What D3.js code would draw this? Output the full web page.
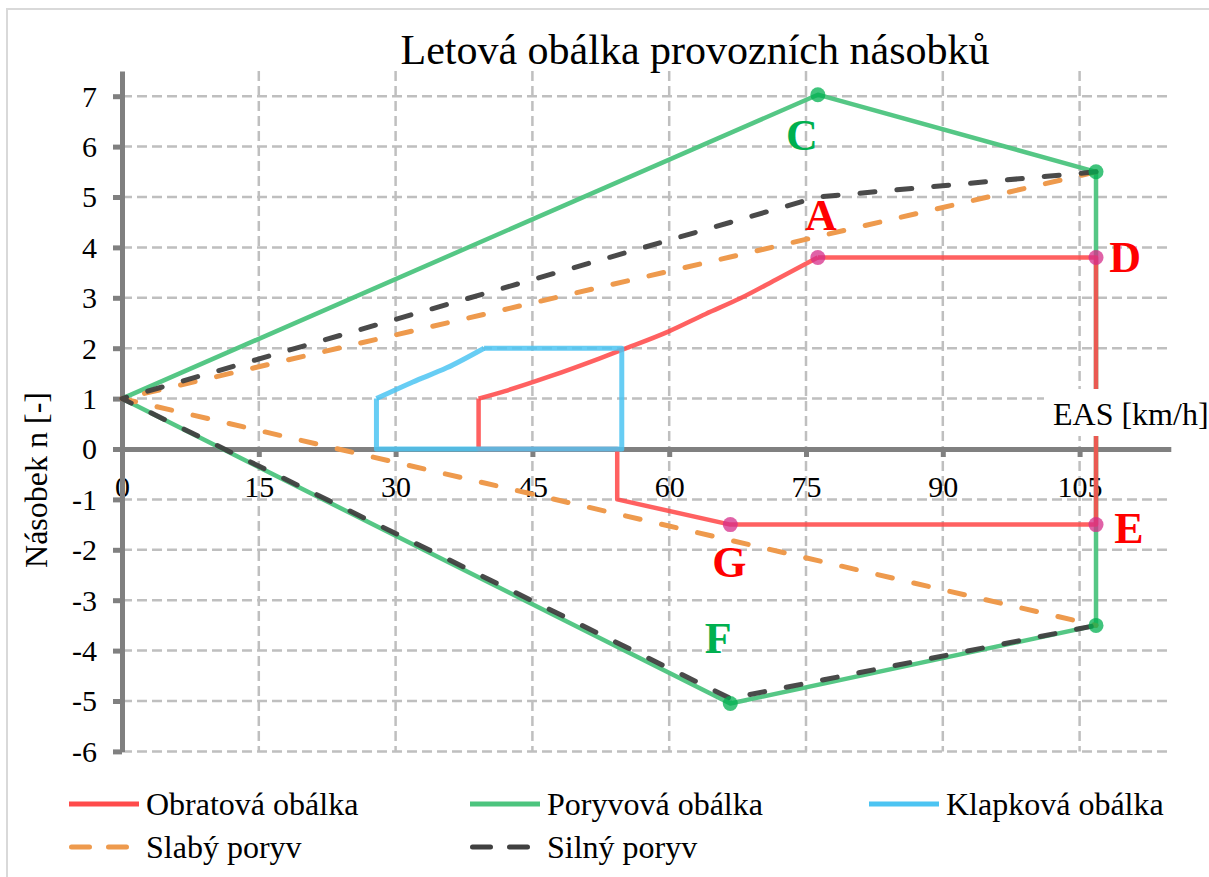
<!DOCTYPE html>
<html>
<head>
<meta charset="utf-8">
<script src="https://cdn.jsdelivr.net/npm/d3@7"></script>
<style>
  html, body { margin: 0; padding: 0; background: #fff; }
  svg { display: block; font-family: "Liberation Serif", "Times New Roman", serif; }
</style>
</head>
<body>
<svg id="chart" width="1209" height="877"></svg>
<script>
// Obratová obálka – the stall parabola from (Vs, 1) up to A
const obratovaKrivkaV = [39.1, 42, 46.9, 52.4, 55, 59.9, 64, 67.8, 72, 76.3];
const obratovaKrivkaN = [1, 1.15, 1.44, 1.80, 1.98, 2.33, 2.68, 2.99, 3.39, 3.8];
// Obratová obálka – straight parts: A, D, E, G, negative stall corner, back to the start
const obratovaV = [76.3, 106.8, 106.8, 66.7, 54.3, 54.3, 39.1, 39.1];
const obratovaN = [3.8, 3.8, -1.5, -1.5, -1, 0, 0, 1];

// Poryvová obálka: (0,1) – C – top right – bottom right – F – (0,1)
const poryvovaV = [0, 76.3, 106.8, 106.8, 66.7, 0];
const poryvovaN = [1, 7.03, 5.5, -3.5, -5.05, 1];

// Klapková obálka – curved part and straight part
const klapkovaKrivkaV = [27.9, 31.9, 35.6, 39.7];
const klapkovaKrivkaN = [1, 1.33, 1.61, 2];
const klapkovaV = [39.7, 54.8, 54.8, 27.9, 27.9];
const klapkovaN = [2, 2, 0, 0, 1];

// Slabý poryv
const slabyV = [106.8, 0, 106.8];
const slabyN = [5.5, 1, -3.5];

// Silný poryv
const silnyV = [106.8, 76.3, 0, 66.7, 106.8];
const silnyN = [5.5, 5.0, 1, -4.95, -3.5];

// Named points of the envelope
const bodyName = ["C", "A", "D", "E", "G", "F"];
const bodyV = [76.3, 76.3, 106.8, 106.8, 66.7, 66.7];
const bodyN = [7.03, 3.8, 3.8, -1.5, -1.5, -5.05];
const bodyGroup = ["poryv", "obrat", "obrat", "obrat", "obrat", "poryv"];
// extra green corner markers
const rohyV = [106.8, 106.8];
const rohyN = [5.5, -3.5];

const xTicks = [0, 15, 30, 45, 60, 75, 90, 105];
const yTicks = [-6, -5, -4, -3, -2, -1, 0, 1, 2, 3, 4, 5, 6, 7];

const titleText = "Letová obálka provozních násobků";
const xTitle = "EAS [km/h]";
const yTitle = "Násobek n [-]";
const legendNames = ["Obratová obálka", "Poryvová obálka", "Klapková obálka", "Slabý poryv", "Silný poryv"];

// ---------- drawing ----------
const svg = d3.select("#chart");
const C = {
  red: "#ff4b4b", green: "#4cc47e", blue: "#4cc4f2", orange: "#ee9a4d", dark: "#404040",
  redMark: "#d62e8a", greenMark: "#00b050", grid: "#bfbfbf", axis: "#808080",
  labRed: "#ff0000", labGreen: "#00b050"
};

svg.append("rect").attr("x", 0).attr("y", 0).attr("width", 1209).attr("height", 877).attr("fill", "#fff");
svg.append("rect").attr("x", 7).attr("y", 9).attr("width", 1215).attr("height", 885)
  .attr("fill", "none").attr("stroke", "#d9d9d9").attr("stroke-width", 2);

const x = d3.scaleLinear().domain([0, 115]).range([122, 122 + 115 * 9.12]);
const y = d3.scaleLinear().domain([-6, 7.5]).range([449 + 6 * 50.4, 449 - 7.5 * 50.4]);

// gridlines
const grid = svg.append("g");
grid.selectAll("line.h").data(yTicks.filter(d => d !== 0)).join("line")
  .attr("x1", x(0)).attr("x2", x(115)).attr("y1", d => y(d)).attr("y2", d => y(d))
  .attr("stroke", C.grid).attr("stroke-width", 2.5).attr("stroke-dasharray", "10,5");
grid.selectAll("line.v").data(xTicks.filter(d => d !== 0)).join("line")
  .attr("x1", d => x(d)).attr("x2", d => x(d)).attr("y1", y(7.5)).attr("y2", y(-6))
  .attr("stroke", C.grid).attr("stroke-width", 2.5).attr("stroke-dasharray", "10,5");

// axes
const fmt = d => String(d);
const gx = svg.append("g").attr("transform", `translate(0,${y(0)})`)
  .call(d3.axisBottom(x).tickValues(xTicks).tickFormat(fmt).tickSize(8).tickSizeOuter(0).tickPadding(19));
const gy = svg.append("g").attr("transform", `translate(${x(0)},0)`)
  .call(d3.axisLeft(y).tickValues(yTicks).tickFormat(fmt).tickSize(9).tickSizeOuter(0).tickPadding(16));
[gx, gy].forEach(g => {
  g.select(".domain").attr("stroke", C.axis).attr("stroke-width", 5);
  g.selectAll(".tick line").attr("stroke", C.axis).attr("stroke-width", 5);
  g.selectAll(".tick text").attr("fill", "#000").style("font-size", "30px")
    .style("font-family", "'Liberation Serif', 'Times New Roman', serif");
});
gy.selectAll(".tick text").attr("dy", "0.33em");

// series
const pts = (vs, ns) => vs.map((v, i) => [x(v), y(ns[i])]);
const line = d3.line();
const smooth = d3.line().curve(d3.curveMonotoneX);
const series = svg.append("g").attr("fill", "none").attr("stroke-linejoin", "round");

series.append("path").attr("d", line(pts(poryvovaV, poryvovaN)))
  .attr("stroke", C.green).attr("stroke-width", 4.5).attr("stroke-opacity", 0.95);
series.append("path").attr("d", line(pts(slabyV, slabyN)))
  .attr("stroke", C.orange).attr("stroke-width", 5).attr("stroke-dasharray", "15,22")
  .attr("stroke-linecap", "round");
series.append("path").attr("d", line(pts(silnyV, silnyN)))
  .attr("stroke", C.dark).attr("stroke-width", 5).attr("stroke-dasharray", "15,22")
  .attr("stroke-linecap", "round").attr("stroke-opacity", 0.95);

const red = series.append("g").attr("stroke", C.red).attr("stroke-width", 4.5).attr("stroke-opacity", 0.88);
red.append("path").attr("d", smooth(pts(obratovaKrivkaV, obratovaKrivkaN)));
red.append("path").attr("d", line(pts(obratovaV, obratovaN)));

const blue = series.append("g").attr("stroke", C.blue).attr("stroke-width", 5).attr("stroke-opacity", 0.85);
blue.append("path").attr("d", smooth(pts(klapkovaKrivkaV, klapkovaKrivkaN)));
blue.append("path").attr("d", line(pts(klapkovaV, klapkovaN)));

// markers
const marks = svg.append("g");
marks.selectAll("circle.p").data(bodyV.map((v, i) => ({ v, n: bodyN[i], g: bodyGroup[i] }))).join("circle")
  .attr("cx", d => x(d.v)).attr("cy", d => y(d.n)).attr("r", 7.5)
  .attr("fill", d => d.g === "obrat" ? C.redMark : C.greenMark).attr("fill-opacity", 0.75);
marks.selectAll("circle.r").data(rohyV.map((v, i) => ({ v, n: rohyN[i] }))).join("circle")
  .attr("cx", d => x(d.v)).attr("cy", d => y(d.n)).attr("r", 7.5)
  .attr("fill", C.greenMark).attr("fill-opacity", 0.75);

// point letters, placed beside their points
const labelOffset = { C: [-16, 55], A: [3, -27], D: [29, 15], E: [33, 18], G: [-1, 52], F: [-12, -51] };
svg.append("g").selectAll("text").data(bodyName.map((k, i) => ({ k, v: bodyV[i], n: bodyN[i], g: bodyGroup[i] })))
  .join("text")
  .attr("x", d => x(d.v) + labelOffset[d.k][0]).attr("y", d => y(d.n) + labelOffset[d.k][1])
  .attr("text-anchor", "middle").attr("font-size", 44).attr("font-weight", "bold")
  .attr("fill", d => d.g === "obrat" ? C.labRed : C.labGreen)
  .text(d => d.k);

// x axis title with white backing
svg.append("rect").attr("x", 1044).attr("y", 389).attr("width", 170).attr("height", 47).attr("fill", "#fff");
svg.append("text").attr("x", 1053).attr("y", 425).attr("font-size", 32).attr("fill", "#000").text(xTitle);

// y axis title
svg.append("text").attr("transform", "translate(47,480) rotate(-90)")
  .attr("text-anchor", "middle").attr("font-size", 32).attr("fill", "#000").text(yTitle);

// title
svg.append("text").attr("x", 695).attr("y", 64).attr("text-anchor", "middle")
  .attr("font-size", 42).attr("fill", "#000").text(titleText);

// legend
const legendStyle = [
  { c: C.red, dash: null }, { c: C.green, dash: null }, { c: C.blue, dash: null },
  { c: C.orange, dash: "18,19" }, { c: C.dark, dash: "18,19" }
];
const legendCol = [69, 470, 869];
const legendRow = [804, 847];
const lg = svg.append("g");
legendNames.forEach((name, i) => {
  const cx = legendCol[i % 3], cy = legendRow[Math.floor(i / 3)];
  const s = legendStyle[i];
  const l = lg.append("line").attr("x1", cx + (s.dash ? 2.5 : 0)).attr("x2", cx + 70).attr("y1", cy).attr("y2", cy)
    .attr("stroke", s.c).attr("stroke-width", 5);
  if (s.dash) l.attr("stroke-dasharray", s.dash).attr("stroke-linecap", "round");
  lg.append("text").attr("x", cx + 77).attr("y", cy + 11).attr("font-size", 32).attr("fill", "#000").text(name);
});
</script>
</body>
</html>
